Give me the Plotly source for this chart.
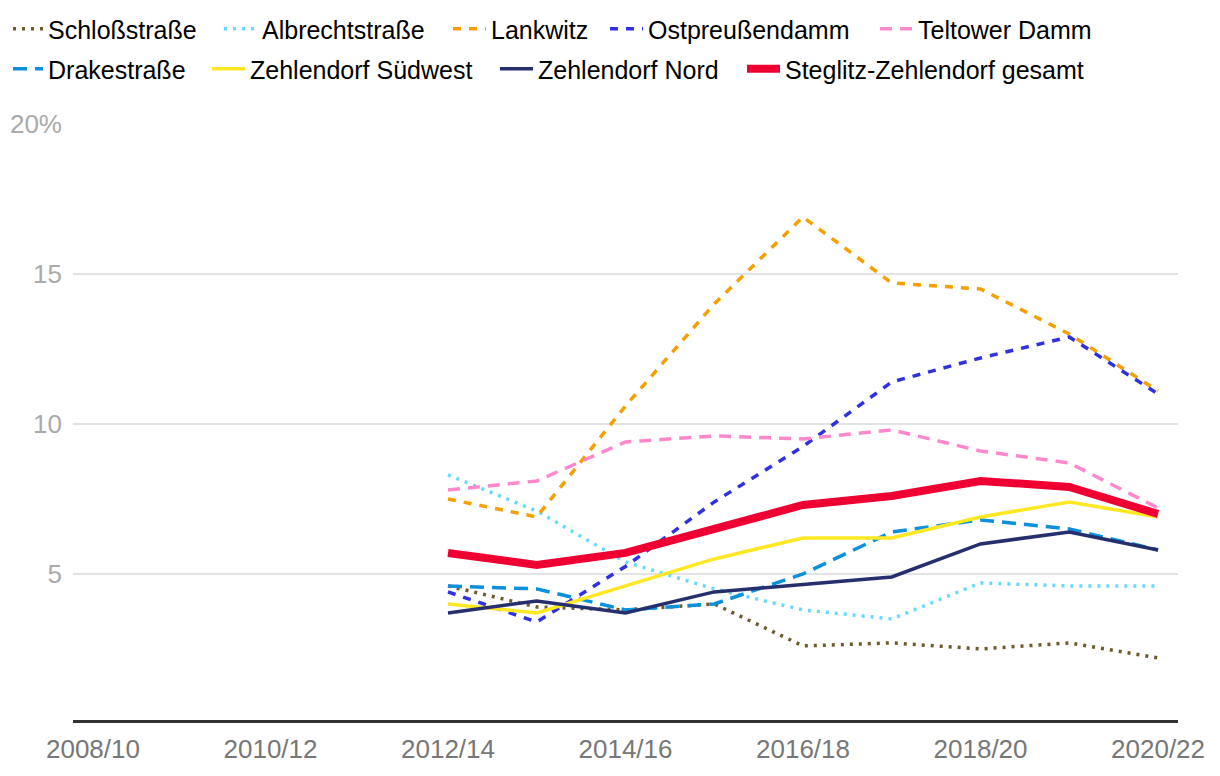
import plotly.graph_objects as go

periods = ["2008/10", "2009/11", "2010/12", "2011/13", "2012/14", "2013/15", "2014/16",
           "2015/17", "2016/18", "2017/19", "2018/20", "2019/21", "2020/22"]
tick_periods = ["2008/10", "2010/12", "2012/14", "2014/16", "2016/18", "2018/20", "2020/22"]
y_ticks = [5, 10, 15, 20]
y_tick_labels = ["5", "10", "15", "20%"]

N = None
schlossstrasse = [N, N, N, N, 4.6, 3.9, 3.8, 4.0, 2.6, 2.7, 2.5, 2.7, 2.2]
albrechtstrasse = [N, N, N, N, 8.3, 7.1, 5.4, 4.5, 3.8, 3.5, 4.7, 4.6, 4.6]
lankwitz = [N, N, N, N, 7.5, 6.9, 10.6, 14.0, 16.9, 14.7, 14.5, 13.0, 11.1]
ostpreussendamm = [N, N, N, N, 4.4, 3.4, 5.25, 7.4, 9.25, 11.4, 12.2, 12.9, 11.0]
teltower_damm = [N, N, N, N, 7.8, 8.1, 9.4, 9.6, 9.5, 9.8, 9.1, 8.7, 7.2]
drakestrasse = [N, N, N, N, 4.6, 4.5, 3.8, 4.0, 5.0, 6.4, 6.8, 6.5, 5.8]
zehlendorf_suedwest = [N, N, N, N, 4.0, 3.7, 4.6, 5.5, 6.2, 6.2, 6.9, 7.4, 6.9]
zehlendorf_nord = [N, N, N, N, 3.7, 4.1, 3.7, 4.4, 4.65, 4.9, 6.0, 6.4, 5.8]
gesamt = [N, N, N, N, 5.7, 5.3, 5.7, 6.5, 7.3, 7.6, 8.1, 7.9, 7.0]

# name, values, colour, dash, width, legend text-start x (px), legend row
series = [
    ("Schloßstraße", schlossstrasse, "#6e5b2c", "3px,6px", 3.5, 48, 0),
    ("Albrechtstraße", albrechtstrasse, "#66d9ff", "3px,6px", 3.5, 262, 0),
    ("Lankwitz", lankwitz, "#f59f00", "8px,8px", 3.5, 491, 0),
    ("Ostpreußendamm", ostpreussendamm, "#3030e0", "8px,8px", 3.5, 648, 0),
    ("Teltower Damm", teltower_damm, "#ff88cc", "12px,8px", 3.5, 918, 0),
    ("Drakestraße", drakestrasse, "#0a90dc", "14px,8px", 3.5, 48, 1),
    ("Zehlendorf Südwest", zehlendorf_suedwest, "#fde823", "solid", 3.5, 250, 1),
    ("Zehlendorf Nord", zehlendorf_nord, "#262f6e", "solid", 3.5, 538, 1),
    ("Steglitz-Zehlendorf gesamt", gesamt, "#ee0033", "solid", 8, 785, 1),
]

OFF = 8  # page body margin
W, H = 1220 - OFF, 776 - OFF
row_centers = [29, 69]
fig = go.Figure()
legends = {}
for i, (name, vals, color, dash, width, tx, row) in enumerate(series):
    key = "legend" if i == 0 else f"legend{i + 1}"
    fig.add_trace(go.Scatter(
        x=periods, y=vals, name=name, mode="lines",
        line=dict(color=color, dash=dash, width=width),
        connectgaps=False, legend=key,
    ))
    iw = 33 if tx - OFF - 43 >= 0 else 30
    lx = max(0, tx - OFF - (iw + 10))
    legends[key] = dict(
        orientation="h", xref="container", yref="container",
        x=lx / W, y=1 - (row_centers[row] - OFF) / H,
        xanchor="left", yanchor="middle",
        font=dict(size=25, color="#000"), itemwidth=iw,
        bgcolor="rgba(0,0,0,0)", borderwidth=0,
    )

fig.update_layout(
    width=W, height=H,
    margin=dict(l=73 - OFF, r=42, t=124 - OFF, b=56, autoexpand=False),
    paper_bgcolor="white", plot_bgcolor="white",
    font=dict(family="Liberation Sans, Arial, sans-serif", size=25, color="#000"),
    showlegend=True,
    xaxis=dict(
        type="category", categoryorder="array", categoryarray=periods,
        range=[-0.225, 12.225],
        tickvals=tick_periods, ticktext=tick_periods,
        showgrid=False, zeroline=False,
        showline=True, linecolor="#333", linewidth=3,
        ticks="", tickfont=dict(size=26, color="#777"),
        ticklabelstandoff=4,
    ),
    yaxis=dict(
        range=[0.13, 20], tickvals=y_ticks, ticktext=y_tick_labels,
        showgrid=True, gridcolor="#e3e3e3", gridwidth=2,
        zeroline=False, showline=False, ticks="",
        tickfont=dict(size=26, color="#aaa"),
        ticklabelstandoff=10,
    ),
)
fig.update_layout(**legends)

fig.write_html("out.html")
